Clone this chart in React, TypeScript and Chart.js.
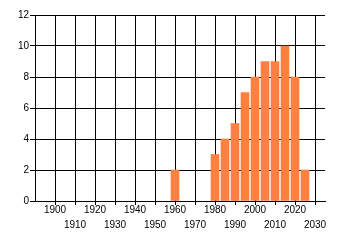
import React, { useEffect, useRef } from "react";
import { Chart, registerables } from "chart.js";

Chart.register(...registerables);

const years = [1960, 1980, 1985, 1990, 1995, 2000, 2005, 2010, 2015, 2020, 2025];
const counts = [2, 3, 4, 5, 7, 8, 9, 9, 10, 8, 2];
const xTickValues = [1900, 1910, 1920, 1930, 1940, 1950, 1960, 1970, 1980, 1990, 2000, 2010, 2020, 2030];
const yTickValues = [0, 2, 4, 6, 8, 10, 12];

export default function App() {
  const ref = useRef<HTMLCanvasElement | null>(null);
  useEffect(() => {
    document.body.style.margin = "0";
    const canvas = ref.current;
    if (!canvas) return;
    const font = { family: "'Liberation Sans', Arial, sans-serif", size: 10, lineHeight: 1.5 };
    const chart = new Chart(canvas, {
      type: "bar",
      data: {
        datasets: [
          {
            data: years.map((y, i) => ({ x: y, y: counts[i] })),
            backgroundColor: "#FF8040",
            borderWidth: 0,
            barThickness: 8,
          },
        ],
      },
      options: {
        animation: false,
        responsive: false,
        maintainAspectRatio: false,
        layout: { padding: { left: 0, right: 15, top: 15, bottom: 0 } },
        plugins: { legend: { display: false }, tooltip: { enabled: false } },
        scales: {
          x: {
            type: "linear",
            min: 1890,
            max: 2035,
            offset: false,
            afterBuildTicks: (scale: any) => {
              scale.ticks = xTickValues.map((v) => ({ value: v }));
            },
            afterFit: (scale: any) => {
              scale.height = 44;
            },
            grid: { color: "#000", lineWidth: 1, tickLength: 4, drawOnChartArea: true, offset: false },
            border: { color: "#000", width: 1 },
            ticks: {
              color: "#000",
              font,
              padding: -2,
              maxRotation: 0,
              autoSkip: false,
              callback: (v: any) => {
                const n = Number(v);
                const idx = Math.round((n - 1900) / 10);
                return idx % 2 === 0 ? [String(n)] : ["", String(n)];
              },
            },
          },
          y: {
            min: 0,
            max: 12,
            afterBuildTicks: (scale: any) => {
              scale.ticks = yTickValues.map((v) => ({ value: v }));
            },
            afterFit: (scale: any) => {
              scale.width = 35;
            },
            grid: { color: "#000", lineWidth: 1, tickLength: 5 },
            border: { color: "#000", width: 1 },
            ticks: { color: "#000", font: { family: font.family, size: 10 }, padding: 1 },
          },
        },
      },
    });
    return () => chart.destroy();
  }, []);
  return <canvas ref={ref} width={340} height={245} style={{ display: "block" }} />;
}
